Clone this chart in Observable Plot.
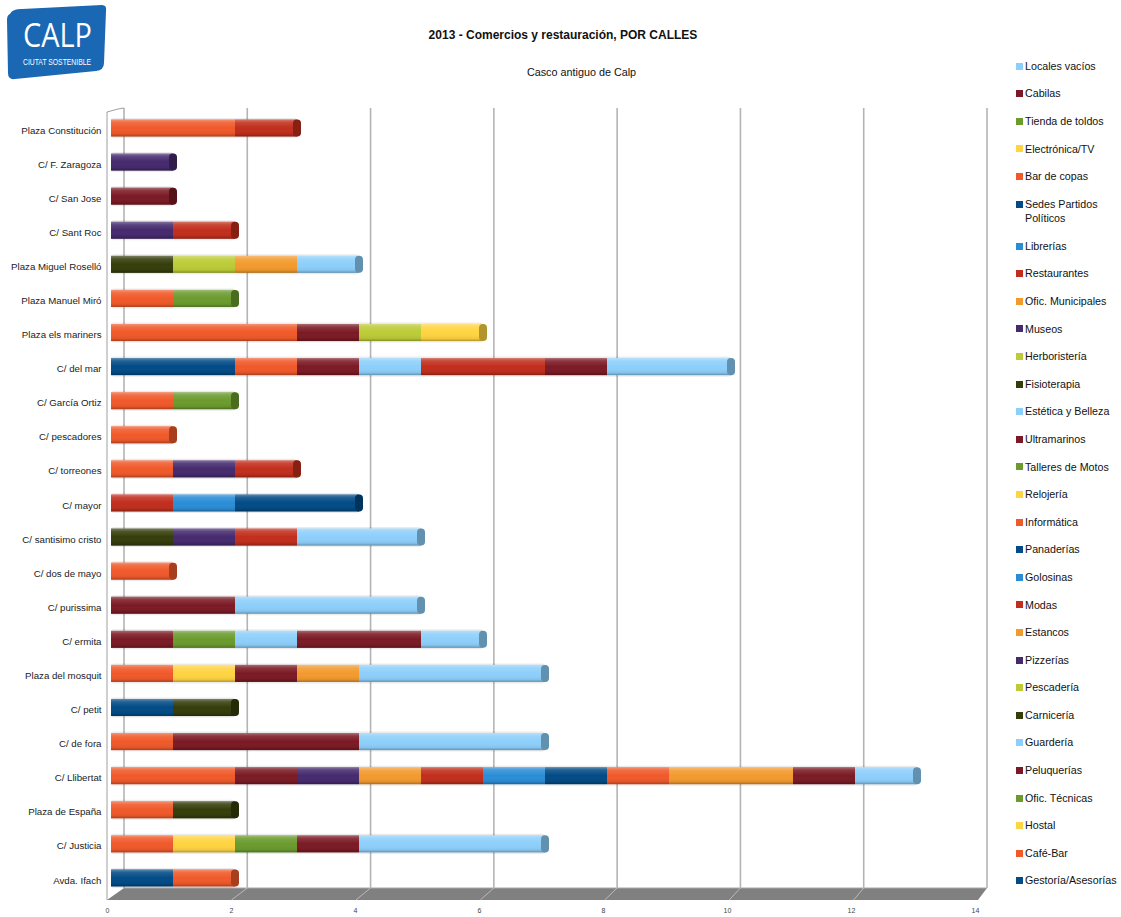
<!DOCTYPE html>
<html>
<head>
<meta charset="utf-8">
<script src="https://cdn.jsdelivr.net/npm/d3@7"></script>
<script src="https://cdn.jsdelivr.net/npm/@observablehq/plot@0.6"></script>
<style>
  html, body { margin: 0; padding: 0; background: #fff; width: 1121px; height: 917px; overflow: hidden; }
  body { position: relative; font-family: "Liberation Sans", Arial, Helvetica, sans-serif; color: #111; }
  #title { position: absolute; left: 0; width: 1126px; top: 28px; text-align: center; font-weight: bold; font-size: 12px; }
  #subtitle { position: absolute; left: 0; width: 1163px; top: 66px; text-align: center; font-size: 10.8px; }
  #chart { position: absolute; left: 0; top: 0; }
  #legend { position: absolute; left: 1016px; top: 52.2px; }
  .entry { display: flex; align-items: flex-start; padding: 6.55px 0; }
  .sw { width: 7px; height: 7px; margin-top: 3.9px; margin-right: 2px; flex: none; }
  .lbl { width: 98px; font-size: 10.7px; line-height: 14.5px; }
  #logo { position: absolute; left: 0; top: 0; }
</style>
</head>
<body>
<svg width="0" height="0" style="position:absolute">
  <defs>
    <linearGradient id="gloss" x1="0" y1="0" x2="0" y2="1">
      <stop offset="0" stop-color="#fff" stop-opacity="0.35"/>
      <stop offset="0.18" stop-color="#fff" stop-opacity="0.12"/>
      <stop offset="0.5" stop-color="#fff" stop-opacity="0"/>
      <stop offset="0.85" stop-color="#000" stop-opacity="0.06"/>
      <stop offset="1" stop-color="#000" stop-opacity="0.3"/>
    </linearGradient>
  </defs>
</svg>
<svg id="logo" width="120" height="90">
  <path d="M10,14 Q12,9 22,9 L102,5 Q107,5 106,11 L104,63 Q104,70 96,71 L15,79 Q8,80 8,73 L7,20 Q7,15 10,14 Z" fill="#1a67b3"/>
  <text x="23" y="46.5" fill="#fff" font-size="33" font-family="'Open Sans', 'Liberation Sans', sans-serif" textLength="69" lengthAdjust="spacingAndGlyphs">CALP</text>
  <text x="23" y="64.5" fill="#fff" font-size="8.5" font-family="'Liberation Sans', sans-serif" textLength="68" lengthAdjust="spacingAndGlyphs">CIUTAT SOSTENIBLE</text>
</svg>
<div id="title">2013 - Comercios y restauración, POR CALLES</div>
<div id="subtitle">Casco antiguo de Calp</div>
<div id="chart"></div>
<div id="legend"></div>
<script>
// Streets, top to bottom
const streets = [
  "Plaza Constitución", "C/ F. Zaragoza", "C/ San Jose", "C/ Sant Roc",
  "Plaza Miguel Roselló", "Plaza Manuel Miró", "Plaza els mariners", "C/ del mar",
  "C/ García Ortiz", "C/ pescadores", "C/ torreones", "C/ mayor",
  "C/ santisimo cristo", "C/ dos de mayo", "C/ purissima", "C/ ermita",
  "Plaza del mosquit", "C/ petit", "C/ de fora", "C/ Llibertat",
  "Plaza de España", "C/ Justicia", "Avda. Ifach"
];

// Series in stacking order (legend shows them reversed)
const series = [
  "Gestoría/Asesorías", "Café-Bar", "Hostal", "Ofic. Técnicas", "Peluquerías",
  "Guardería", "Carnicería", "Pescadería", "Pizzerías", "Estancos",
  "Modas", "Golosinas", "Panaderías", "Informática", "Relojería",
  "Talleres de Motos", "Ultramarinos", "Estética y Belleza", "Fisioterapia", "Herboristería",
  "Museos", "Ofic. Municipales", "Restaurantes", "Librerías", "Sedes Partidos Políticos",
  "Bar de copas", "Electrónica/TV", "Tienda de toldos", "Cabilas", "Locales vacíos"
];

const palette = ["#024b86", "#f0592a", "#ffd441", "#6b9b2e", "#7b1a24", "#8dcffb",
                 "#353d0b", "#bccb36", "#452a6e", "#f39a2e", "#c12e1c", "#2a8dd6"];
const colors = series.map((_, i) => palette[i % palette.length]);

// [street, series, count]
const cells = [
  ["Plaza Constitución", "Café-Bar", 2], ["Plaza Constitución", "Restaurantes", 1],
  ["C/ F. Zaragoza", "Museos", 1],
  ["C/ San Jose", "Peluquerías", 1],
  ["C/ Sant Roc", "Pizzerías", 1], ["C/ Sant Roc", "Restaurantes", 1],
  ["Plaza Miguel Roselló", "Fisioterapia", 1], ["Plaza Miguel Roselló", "Herboristería", 1],
  ["Plaza Miguel Roselló", "Ofic. Municipales", 1], ["Plaza Miguel Roselló", "Locales vacíos", 1],
  ["Plaza Manuel Miró", "Café-Bar", 1], ["Plaza Manuel Miró", "Ofic. Técnicas", 1],
  ["Plaza els mariners", "Café-Bar", 3], ["Plaza els mariners", "Peluquerías", 1],
  ["Plaza els mariners", "Pescadería", 1], ["Plaza els mariners", "Relojería", 1],
  ["C/ del mar", "Gestoría/Asesorías", 2], ["C/ del mar", "Café-Bar", 1], ["C/ del mar", "Peluquerías", 1],
  ["C/ del mar", "Estética y Belleza", 1], ["C/ del mar", "Restaurantes", 2], ["C/ del mar", "Cabilas", 1],
  ["C/ del mar", "Locales vacíos", 2],
  ["C/ García Ortiz", "Café-Bar", 1], ["C/ García Ortiz", "Ofic. Técnicas", 1],
  ["C/ pescadores", "Café-Bar", 1],
  ["C/ torreones", "Café-Bar", 1], ["C/ torreones", "Pizzerías", 1], ["C/ torreones", "Restaurantes", 1],
  ["C/ mayor", "Modas", 1], ["C/ mayor", "Librerías", 1], ["C/ mayor", "Sedes Partidos Políticos", 2],
  ["C/ santisimo cristo", "Fisioterapia", 1], ["C/ santisimo cristo", "Museos", 1],
  ["C/ santisimo cristo", "Restaurantes", 1], ["C/ santisimo cristo", "Locales vacíos", 2],
  ["C/ dos de mayo", "Café-Bar", 1],
  ["C/ purissima", "Peluquerías", 2], ["C/ purissima", "Locales vacíos", 3],
  ["C/ ermita", "Peluquerías", 1], ["C/ ermita", "Talleres de Motos", 1], ["C/ ermita", "Estética y Belleza", 1],
  ["C/ ermita", "Cabilas", 2], ["C/ ermita", "Locales vacíos", 1],
  ["Plaza del mosquit", "Café-Bar", 1], ["Plaza del mosquit", "Hostal", 1], ["Plaza del mosquit", "Peluquerías", 1],
  ["Plaza del mosquit", "Estancos", 1], ["Plaza del mosquit", "Locales vacíos", 3],
  ["C/ petit", "Gestoría/Asesorías", 1], ["C/ petit", "Carnicería", 1],
  ["C/ de fora", "Café-Bar", 1], ["C/ de fora", "Peluquerías", 3], ["C/ de fora", "Locales vacíos", 3],
  ["C/ Llibertat", "Café-Bar", 2], ["C/ Llibertat", "Peluquerías", 1], ["C/ Llibertat", "Pizzerías", 1],
  ["C/ Llibertat", "Estancos", 1], ["C/ Llibertat", "Modas", 1], ["C/ Llibertat", "Golosinas", 1],
  ["C/ Llibertat", "Panaderías", 1], ["C/ Llibertat", "Informática", 1], ["C/ Llibertat", "Ofic. Municipales", 2],
  ["C/ Llibertat", "Cabilas", 1], ["C/ Llibertat", "Locales vacíos", 1],
  ["Plaza de España", "Café-Bar", 1], ["Plaza de España", "Carnicería", 1],
  ["C/ Justicia", "Café-Bar", 1], ["C/ Justicia", "Hostal", 1], ["C/ Justicia", "Ofic. Técnicas", 1],
  ["C/ Justicia", "Peluquerías", 1], ["C/ Justicia", "Estética y Belleza", 1], ["C/ Justicia", "Locales vacíos", 2],
  ["Avda. Ifach", "Gestoría/Asesorías", 1], ["Avda. Ifach", "Café-Bar", 1]
];

const xTicks = [0, 2, 4, 6, 8, 10, 12, 14];

// Build table
const data = cells.map(([street, s, count]) => ({street, series: s, count}))
  .sort((a, b) => series.indexOf(a.series) - series.indexOf(b.series));
const totals = streets.map(st => {
  const rows = data.filter(d => d.street === st);
  return {street: st, total: d3.sum(rows, d => d.count), last: rows[rows.length - 1].series};
});

// 3D frame: back wall gridlines, floor, left edge
function frameDecor(index, scales, values, dims) {
  const x = scales.x;
  const top = dims.marginTop;
  const back = dims.height - dims.marginBottom;
  const front = back + 12;
  const x0 = x(0), xm = x(14);
  const bx = v => x0 + 13 + (x(v) - x0) * (xm + 8 - x0 - 13) / (xm - x0);
  const fx = v => x0 - 4 + (x(v) - x0) * (xm - 1 - x0 + 4) / (xm - x0);
  const g = d3.create("svg:g");
  g.append("path")
    .attr("d", `M${fx(0)},${front}L${fx(14)},${front}L${bx(14)},${back}L${bx(0)},${back}Z`)
    .attr("fill", "#808080");
  g.append("path")
    .attr("d", `M${bx(0)},${back}L${bx(14)},${back}`)
    .attr("stroke", "#a8a8a8").attr("stroke-width", 1);
  for (const v of xTicks) {
    g.append("line")
      .attr("x1", bx(v)).attr("x2", bx(v)).attr("y1", top).attr("y2", back)
      .attr("stroke", "#b4b4b4").attr("stroke-width", 1.6);
    if (v > 0 && v < 14) {
      g.append("line")
        .attr("x1", fx(v)).attr("y1", front).attr("x2", bx(v)).attr("y2", back)
        .attr("stroke", "#c8c8c8").attr("stroke-width", 0.8);
    }
  }
  g.append("path")
    .attr("d", `M${fx(0)},${front}L${fx(0)},${top + 4}L${x0 + 7},${top + 1}L${bx(0)},${top}`)
    .attr("fill", "none").attr("stroke", "#a0a0a0").attr("stroke-width", 1);
  return g.node();
}

const chart = Plot.plot({
  width: 1000,
  height: 917,
  marginLeft: 111,
  marginRight: 21,
  marginTop: 108,
  marginBottom: 29,
  style: {fontFamily: "'Liberation Sans', Arial, Helvetica, sans-serif", background: "transparent"},
  x: {domain: [0, 14], range: [111, 979], axis: null},
  y: {domain: streets, range: [110.95, 895.0], paddingInner: 0.5, paddingOuter: 0.25, align: 0.5, round: false, axis: null},
  color: {domain: series, range: colors},
  marks: [
    frameDecor,
    Plot.barX(totals, {x: "total", y: "street", fill: "#000", fillOpacity: 0.08, insetTop: -1.5, insetBottom: -1.5, rx: 3}),
    Plot.barX(data, Plot.stackX({x: "count", y: "street", fill: "series", order: null})),
    Plot.barX(totals, {x: "total", y: "street", fill: "url(#gloss)"}),
    Plot.barX(totals, {x1: "total", x2: "total", y: "street", fill: "last", insetLeft: -4, insetRight: -4, rx: 4}),
    Plot.barX(totals, {x1: "total", x2: "total", y: "street", fill: "#000", fillOpacity: 0.3, insetLeft: -4, insetRight: -4, rx: 4}),
    Plot.text(streets, {y: d => d, frameAnchor: "left", dx: -10, dy: 2, textAnchor: "end", fontSize: 9.7, fill: "#222"}),
    Plot.text(xTicks, {x: d => d, frameAnchor: "bottom", dx: -4, dy: 24, fontSize: 7, fill: "#444"})
  ]
});
document.getElementById("chart").appendChild(chart);

// Legend (reverse of stacking order)
const legend = document.getElementById("legend");
series.slice().reverse().forEach(name => {
  const i = series.indexOf(name);
  const e = document.createElement("div");
  e.className = "entry";
  const sw = document.createElement("div");
  sw.className = "sw";
  sw.style.background = colors[i];
  const t = document.createElement("div");
  t.className = "lbl";
  t.textContent = name;
  e.appendChild(sw); e.appendChild(t);
  legend.appendChild(e);
});
</script>
</body>
</html>
